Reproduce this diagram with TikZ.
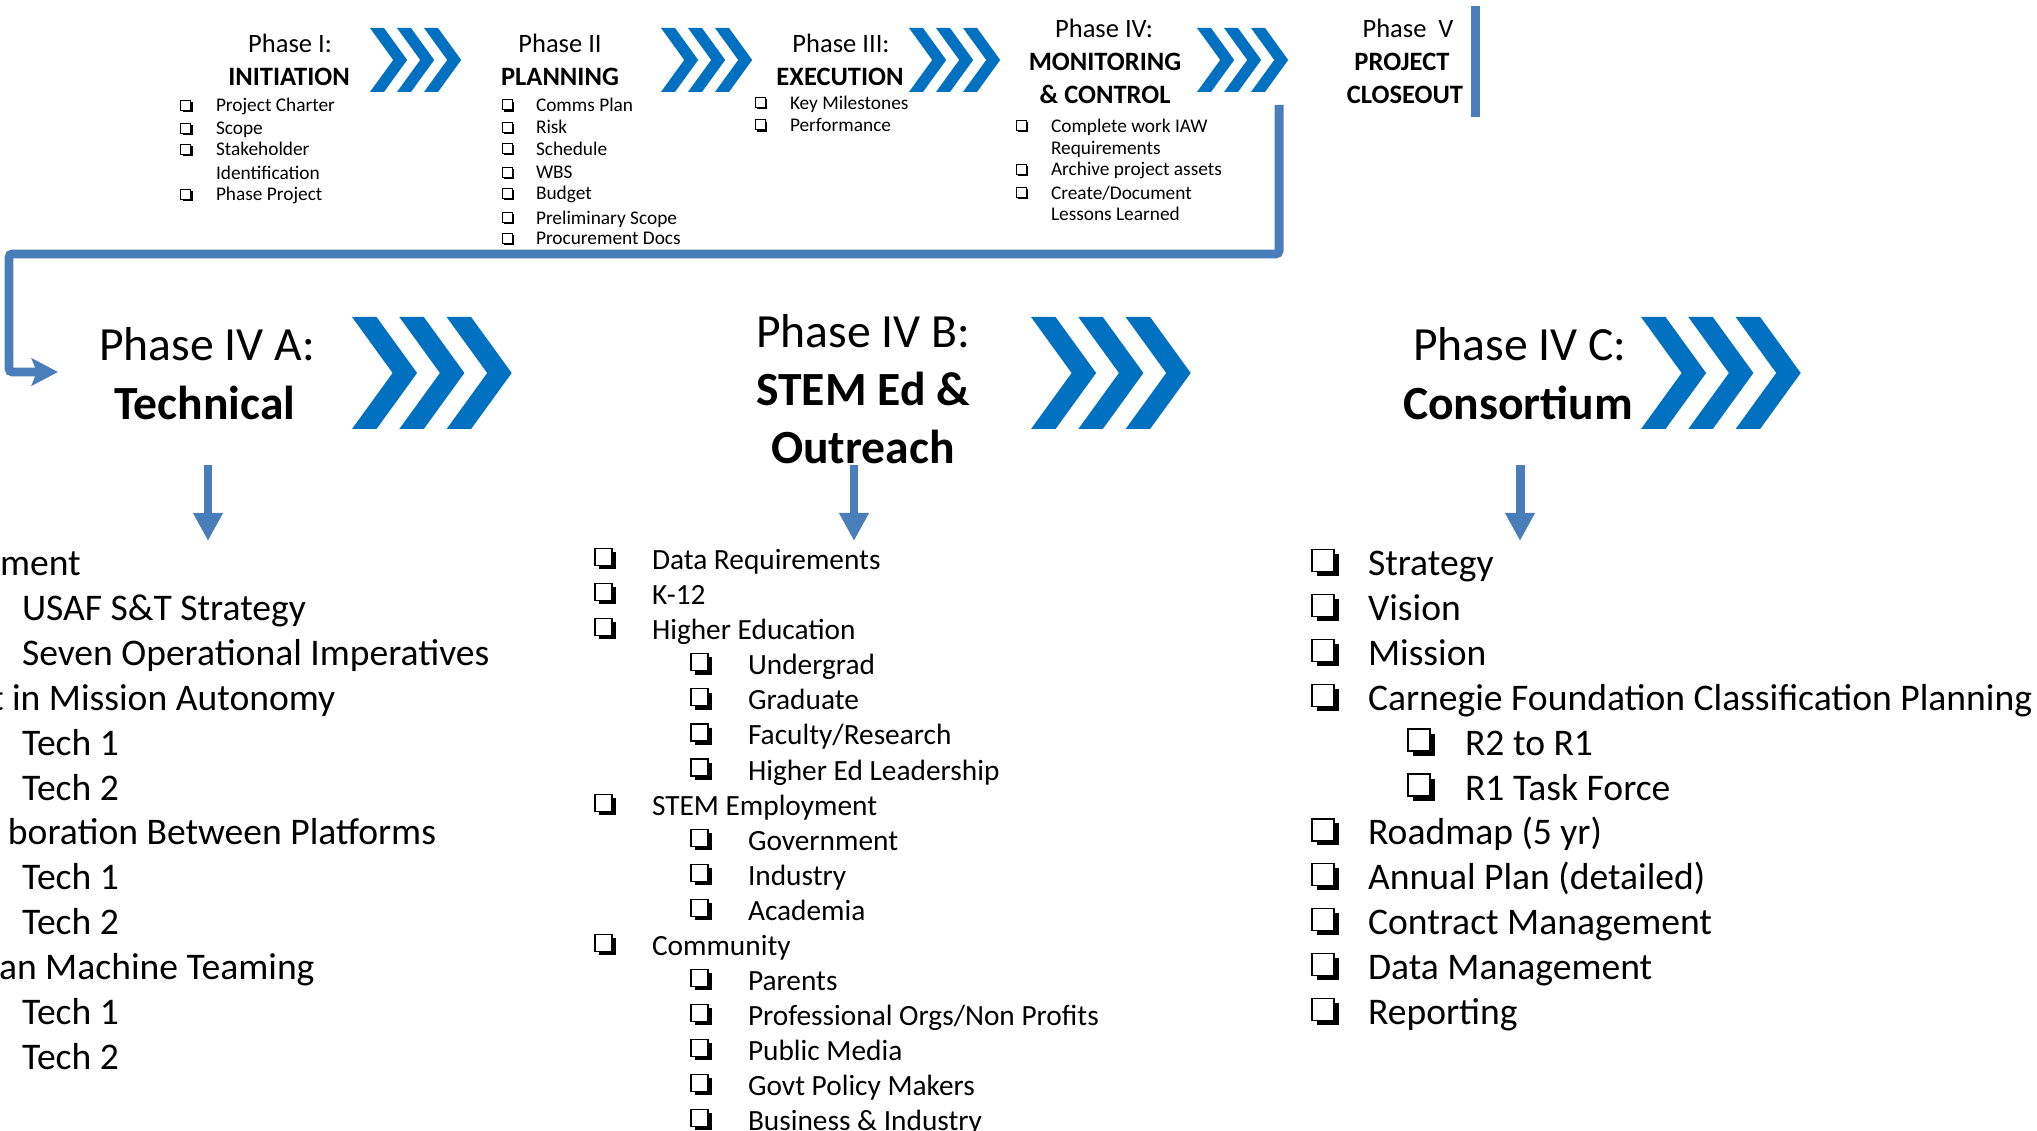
\documentclass[tikz,border=0pt]{standalone}
\usepackage{fontspec}
\setmainfont{Carlito}
\usetikzlibrary{arrows.meta,shadows}

\definecolor{chevblue}{HTML}{0070C0}
\definecolor{linkblue}{HTML}{4A7EBB}

\begin{document}
\begin{tikzpicture}[
            x = 0.02cm, y = -0.02cm, % one unit = one pixel, y pointing down
            every node/.style = {inner sep = 0pt, outer sep = 0pt},
            chevrons/.pic = {
                \foreach \k in {0,1,2}
                    \fill[chevblue] ({47.3*\k},0) -- ++(24.5,0) -- ++(40.6,56)
                        -- ++(-40.6,56) -- ++(-24.5,0) -- ++(40.6,-56) -- cycle;
            }
        ]

        \tikzstyle{toptitle}=[font = \fontsize{15.1}{18}\selectfont, anchor = base]
        \tikzstyle{topbold}=[anchor = base, font = \fontsize{15.1}{18}\selectfont\bfseries]
        \tikzstyle{midtitle}=[font = \fontsize{27.1}{32}\selectfont, anchor = base]
        \tikzstyle{midbold}=[anchor = base, font = \fontsize{27.1}{32}\selectfont\bfseries]
        \tikzstyle{topitem}=[font = \fontsize{11}{13}\selectfont, anchor = base west]
        \tikzstyle{itemA}=[font = \fontsize{21.4}{26}\selectfont, anchor = base west]
        \tikzstyle{itemB}=[font = \fontsize{16.7}{20}\selectfont, anchor = base west]
        \tikzstyle{itemC}=[font = \fontsize{21.4}{26}\selectfont, anchor = base west]
        \tikzstyle{boxtop}=[draw, fill = white, line width = 0.45pt, minimum size = 5.7pt,
            general shadow = {fill = black, shadow xshift = 1.2pt, shadow yshift = -1.2pt}]
        \tikzstyle{boxB}=[draw, fill = white, line width = 0.65pt, minimum size = 9.7pt,
            general shadow = {fill = black, shadow xshift = 2.1pt, shadow yshift = -2.1pt}]
        \tikzstyle{boxC}=[draw, fill = white, line width = 0.75pt, minimum size = 12.5pt,
            general shadow = {fill = black, shadow xshift = 2.6pt, shadow yshift = -2.6pt}]
        \tikzstyle{link}=[draw = linkblue, line width = 5.1pt]
        \tikzstyle{downarrow}=[draw = linkblue, line width = 5.1pt,
            -{Triangle[length = 16pt, width = 16pt]}]

    \clip (0,0) rectangle (2037,1131);

    % Top row: phases I to V
    \node[toptitle] (p1a) at (290,53) {Phase I:};
    \node[topbold]  (p1b) at (289,86) {INITIATION};
    \node[toptitle] (p2a) at (560,53) {Phase II};
    \node[topbold]  (p2b) at (560,86) {PLANNING};
    \node[toptitle] (p3a) at (841,53) {Phase III:};
    \node[topbold]  (p3b) at (840,86) {EXECUTION};
    \node[toptitle] (p4a) at (1104,38) {Phase IV:};
    \node[topbold]  (p4b) at (1105,71) {MONITORING};
    \node[topbold]  (p4c) at (1105,104) {\& CONTROL};
    \node[toptitle] (p5a) at (1408,38) {Phase\ \ V};
    \node[topbold]  (p5b) at (1402,71) {PROJECT};
    \node[topbold]  (p5c) at (1405,104) {CLOSEOUT};

    \pic[scale = 0.571] at (370,28) {chevrons};
    \pic[scale = 0.571] at (661,28) {chevrons};
    \pic[scale = 0.571] at (909,28) {chevrons};
    \pic[scale = 0.571] at (1197,28) {chevrons};

    % Top row checklists
    \foreach \txt/\yy/\cb [count = \i] in {Project Charter/112/1, Scope/135/1,
            Stakeholder/156/1, Identification/179.5/0, Phase Project/201/1} {
        \node[topitem] (i\i) at (216,\yy) {\txt};
        \ifnum\cb=1 \node[boxtop] (i\i b) at (185.5,\yy-7) {}; \fi
    }
    \foreach \txt/\yy [count = \i] in {Comms Plan/111.7, Risk/134, Schedule/155.3,
            WBS/179, Budget/200, Preliminary Scope/224.3, Procurement Docs/245} {
        \node[topitem] (ii\i) at (536,\yy) {\txt};
        \node[boxtop] (ii\i b) at (507,\yy-7) {};
    }
    \foreach \txt/\yy [count = \i] in {Key Milestones/109.3, Performance/131.7} {
        \node[topitem] (iii\i) at (790,\yy) {\txt};
        \node[boxtop] (iii\i b) at (760,\yy-7) {};
    }
    \foreach \txt/\yy/\cb [count = \i] in {Complete work IAW/132.3/1, Requirements/155/0,
            Archive project assets/176/1, {Create/Document}/199.3/1, Lessons Learned/221/0} {
        \node[topitem] (iv\i) at (1051,\yy) {\txt};
        \ifnum\cb=1 \node[boxtop] (iv\i b) at (1021,\yy-7) {}; \fi
    }

    % Loop back from phase IV into the three sub phases
    \coordinate (loopstart) at (1279,105);
    \coordinate (loopend) at (58,372);
    \draw[link, rounded corners = 2pt, -{Stealth[length = 15pt, width = 15.5pt, inset = 3pt]}]
        (loopstart) -- (1279,254) -- (9,254) |- (loopend);
    \coordinate (bartop) at (1475,6);
    \coordinate (barbot) at (1475,117);
    \draw[link] (bartop) -- (barbot);

    % Phase IV sub phases
    \node[midtitle] (pa1) at (207,361) {Phase IV A:};
    \node[midbold]  (pa2) at (205,419) {Technical};
    \node[midtitle] (pb1) at (863,348) {Phase IV B:};
    \node[midbold]  (pb2) at (863,406) {STEM Ed \&};
    \node[midbold]  (pb3) at (863,463) {Outreach};
    \node[midtitle] (pc1) at (1520,361) {Phase IV C:};
    \node[midbold]  (pc2) at (1518,419) {Consortium};

    \pic at (352,317) {chevrons};
    \pic at (1031,317) {chevrons};
    \pic at (1641,317) {chevrons};

    \coordinate (da0) at (208,465);  \coordinate (da1) at (208,541);
    \coordinate (db0) at (854,465);  \coordinate (db1) at (854,541);
    \coordinate (dc0) at (1520,465); \coordinate (dc1) at (1520,541);
    \draw[downarrow] (da0) -- (da1);
    \draw[downarrow] (db0) -- (db1);
    \draw[downarrow] (dc0) -- (dc1);

    % Technical list (cut at the left edge)
    \foreach \txt/\xx [count = \i] in {ment/0, USAF S\&T Strategy/22,
            Seven Operational Imperatives/22, t in Mission Autonomy/-9, Tech 1/22, Tech 2/22,
            boration Between Platforms/8, Tech 1/22, Tech 2/22, an Machine Teaming/-1,
            Tech 1/22, Tech 2/22} {
        \pgfmathsetmacro{\yy}{575.5 + 44.9*(\i-1)}
        \node[itemA] (a\i) at (\xx,\yy) {\txt};
    }

    % STEM Ed & Outreach list
    \foreach \txt/\lv [count = \i] in {Data Requirements/1, K-12/1, Higher Education/1,
            Undergrad/2, Graduate/2, {Faculty/Research}/2, Higher Ed Leadership/2,
            STEM Employment/1, Government/2, Industry/2, Academia/2, Community/1,
            Parents/2, {Professional Orgs/Non Profits}/2, Public Media/2,
            Govt Policy Makers/2, Business \& Industry/2} {
        \pgfmathsetmacro{\yy}{569.6 + 35.07*(\i-1)}
        \node[itemB] (b\i) at ({652 + 96*(\lv-1)},\yy) {\txt};
        \node[boxB] (b\i b) at ({603.5 + 96*(\lv-1)},\yy-12.5) {};
    }

    % Consortium list
    \foreach \txt/\lv [count = \i] in {Strategy/1, Vision/1, Mission/1,
            Carnegie Foundation Classification Planning/1, R2 to R1/2, R1 Task Force/2,
            Roadmap (5 yr)/1, Annual Plan (detailed)/1, Contract Management/1,
            Data Management/1, Reporting/1} {
        \pgfmathsetmacro{\yy}{575.5 + 44.9*(\i-1)}
        \node[itemC] (c\i) at ({1368 + 97*(\lv-1)},\yy) {\txt};
        \node[boxC] (c\i b) at ({1323 + 96*(\lv-1)},\yy-15) {};
    }
\end{tikzpicture}
\end{document}
